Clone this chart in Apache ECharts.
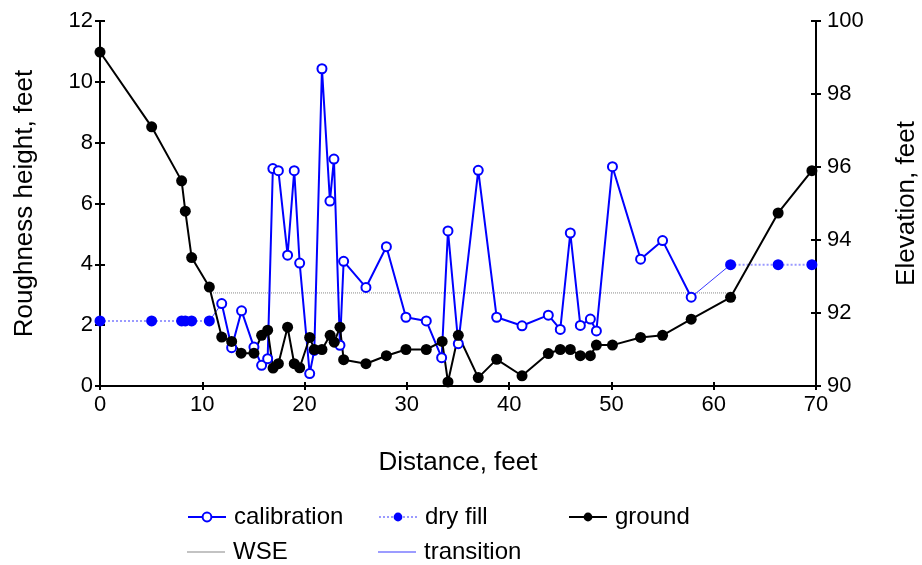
<!DOCTYPE html>
<html>
<head>
<meta charset="utf-8">
<script src="https://cdn.jsdelivr.net/npm/echarts@6/dist/echarts.min.js"></script>
<style>
    html, body { margin: 0; padding: 0; background: #fff; }
    #chart { width: 922px; height: 565px; }
</style>
</head>
<body>
<div id="chart"></div>
<script>
    // calibration roughness heights (left axis)
    var calX = [11.9, 12.87, 13.84, 15.05, 15.8, 16.39, 16.9, 17.44, 18.34, 18.99, 19.52, 20.5, 20.95, 21.7,
        22.48, 22.87, 23.46, 23.82, 26.0, 28.0, 29.91, 31.9, 33.4, 34.02, 35.03, 36.98, 38.78, 41.26, 43.83,
        45.0, 45.98, 46.96, 47.94, 48.53, 50.1, 52.85, 55.0, 57.8];
    var calH = [2.71, 1.26, 2.47, 1.28, 0.68, 0.9, 7.15, 7.08, 4.3, 7.08, 4.04, 0.41, 1.17, 10.43,
        6.08, 7.46, 1.34, 4.1, 3.24, 4.58, 2.26, 2.14, 0.93, 5.1, 1.39, 7.09, 2.26, 1.98, 2.33,
        1.86, 5.03, 1.99, 2.2, 1.81, 7.21, 4.17, 4.78, 2.92];

    // dry fill (left axis), two reaches
    var dryLeftX = [0, 5.05, 7.98, 8.34, 8.96, 10.69];
    var dryLeftH = [2.14, 2.14, 2.14, 2.14, 2.14, 2.14];
    var dryRightX = [61.65, 66.3, 69.6];
    var dryRightH = [3.99, 3.99, 3.99];

    // ground elevation (right axis)
    var groundX = [0, 5.05, 7.98, 8.34, 8.96, 10.69, 11.9, 12.87, 13.8, 15.05, 15.8, 16.39, 16.92, 17.44,
        18.34, 18.99, 19.52, 20.5, 20.95, 21.7, 22.5, 22.9, 23.46, 23.82, 26.0, 28.0, 29.91, 31.9, 33.45,
        34.02, 35.03, 36.98, 38.78, 41.26, 43.83, 45.0, 45.98, 46.96, 47.94, 48.53, 50.1, 52.85, 55.0,
        57.8, 61.65, 66.3, 69.6];
    var groundZ = [99.15, 97.1, 95.62, 94.79, 93.52, 92.71, 91.34, 91.22, 90.9, 90.9, 91.39, 91.53, 90.49, 90.61,
        91.61, 90.61, 90.5, 91.33, 91.0, 91.0, 91.39, 91.2, 91.61, 90.72, 90.61, 90.83, 91.0, 91.0, 91.22,
        90.11, 91.39, 90.23, 90.73, 90.28, 90.89, 91.0, 91.0, 90.83, 90.83, 91.12, 91.12, 91.33, 91.39,
        91.83, 92.43, 94.74, 95.9];

    // water surface (left axis scale)
    var wseX = [10.85, 61.65];
    var wseH = [3.06, 3.06];

    // transition links between dry fill and calibration
    var transX = [10.69, 11.9, null, 57.8, 61.65];
    var transH = [2.14, 2.71, null, 2.92, 3.99];

    function pairs(xs, ys) {
        return xs.map(function (x, i) {
            return (x === null) ? [null, null] : [x, ys[i]];
        });
    }

    var dryData = pairs(dryLeftX, dryLeftH).concat([[35, null]]).concat(pairs(dryRightX, dryRightH));

    var FONT = 'Liberation Sans, Arial, sans-serif';

    var chart = echarts.init(document.getElementById('chart'), null, { renderer: 'canvas' });

    function legendAt(name, left, top, extra) {
        var l = {
            data: [name],
            left: left,
            top: top,
            padding: 0,
            itemWidth: 38,
            itemHeight: 11,
            itemGap: 0,
            selectedMode: false,
            textStyle: { fontFamily: FONT, fontSize: 24, color: '#000', padding: [0, 0, 0, 3] }
        };
        for (var k in extra) l[k] = extra[k];
        return l;
    }

    chart.setOption({
        backgroundColor: '#fff',
        animation: false,
        grid: { left: 100, right: 106, top: 21, bottom: 179, outerBoundsMode: 'none' },
        legend: [
            legendAt('calibration', 187, 505),
            legendAt('dry fill', 378, 505),
            legendAt('ground', 568, 505),
            legendAt('WSE', 187, 540, { data: [{ name: 'WSE', icon: 'rect' }], itemHeight: 1 }),
            legendAt('transition', 378, 540, { data: [{ name: 'transition', icon: 'rect' }], itemHeight: 1 })
        ],
        xAxis: [
            {
                type: 'value',
                min: 0,
                max: 70,
                interval: 10,
                name: 'Distance, feet',
                nameLocation: 'middle',
                nameGap: 64,
                nameTextStyle: { fontFamily: FONT, fontSize: 26, color: '#000' },
                axisLine: { show: true, onZero: false, lineStyle: { color: '#000', width: 2 } },
                axisTick: { show: true, inside: false, length: 4, lineStyle: { color: '#000', width: 2 } },
                axisLabel: { fontFamily: FONT, fontSize: 22, color: '#000', margin: 8 },
                splitLine: { show: false }
            },
            {
                type: 'value',
                min: 0,
                max: 70,
                interval: 10,
                position: 'bottom',
                axisLine: { show: false, onZero: false },
                axisTick: { show: true, inside: true, length: 4, lineStyle: { color: '#000', width: 2 } },
                axisLabel: { show: false },
                splitLine: { show: false }
            }
        ],
        yAxis: [
            {
                type: 'value',
                min: 0,
                max: 12,
                interval: 2,
                position: 'left',
                name: 'Roughness height, feet',
                nameLocation: 'middle',
                nameGap: 62,
                nameTextStyle: { fontFamily: FONT, fontSize: 26, color: '#000' },
                axisLine: { show: true, onZero: false, lineStyle: { color: '#000', width: 2 } },
                axisTick: { show: true, inside: false, length: 5, lineStyle: { color: '#000', width: 2 } },
                axisLabel: { fontFamily: FONT, fontSize: 22, color: '#000', margin: 7 },
                splitLine: { show: false }
            },
            {
                type: 'value',
                min: 90,
                max: 100,
                interval: 2,
                position: 'right',
                name: 'Elevation, feet',
                nameLocation: 'middle',
                nameGap: 78,
                nameTextStyle: { fontFamily: FONT, fontSize: 26, color: '#000' },
                axisLine: { show: true, onZero: false, lineStyle: { color: '#000', width: 2 } },
                axisTick: { show: true, inside: false, length: 5, lineStyle: { color: '#000', width: 2 } },
                axisLabel: { fontFamily: FONT, fontSize: 22, color: '#000', margin: 11 },
                splitLine: { show: false }
            },
            {
                type: 'value',
                min: 0,
                max: 12,
                interval: 2,
                position: 'left',
                axisLine: { show: false, onZero: false },
                axisTick: { show: true, inside: true, length: 5, lineStyle: { color: '#000', width: 2 } },
                axisLabel: { show: false },
                splitLine: { show: false }
            },
            {
                type: 'value',
                min: 90,
                max: 100,
                interval: 2,
                position: 'right',
                axisLine: { show: false, onZero: false },
                axisTick: { show: true, inside: true, length: 5, lineStyle: { color: '#000', width: 2 } },
                axisLabel: { show: false },
                splitLine: { show: false }
            }
        ],
        series: [
            {
                name: 'WSE',
                type: 'line',
                yAxisIndex: 0,
                symbol: 'none',
                color: '#888',
                lineStyle: { color: '#888', width: 1, type: 'dotted' },
                data: pairs(wseX, wseH)
            },
            {
                name: 'transition',
                type: 'line',
                yAxisIndex: 0,
                symbol: 'none',
                connectNulls: false,
                color: '#3a3aff',
                lineStyle: { color: '#3a3aff', width: 1 },
                data: pairs(transX, transH)
            },
            {
                name: 'dry fill',
                type: 'line',
                yAxisIndex: 0,
                symbol: 'circle',
                symbolSize: 11,
                connectNulls: false,
                itemStyle: { color: '#0000ff' },
                lineStyle: { color: '#9a9aff', width: 2, type: 'dotted' },
                data: dryData
            },
            {
                name: 'calibration',
                type: 'line',
                yAxisIndex: 0,
                symbol: 'emptyCircle',
                symbolSize: 9,
                itemStyle: { color: '#0000ff', borderWidth: 2, borderColor: '#0000ff' },
                lineStyle: { color: '#0000ff', width: 2 },
                data: pairs(calX, calH)
            },
            {
                name: 'ground',
                type: 'line',
                yAxisIndex: 1,
                symbol: 'circle',
                symbolSize: 11,
                itemStyle: { color: '#000' },
                lineStyle: { color: '#000', width: 2 },
                data: pairs(groundX, groundZ)
            }
        ]
    });
</script>
</body>
</html>
